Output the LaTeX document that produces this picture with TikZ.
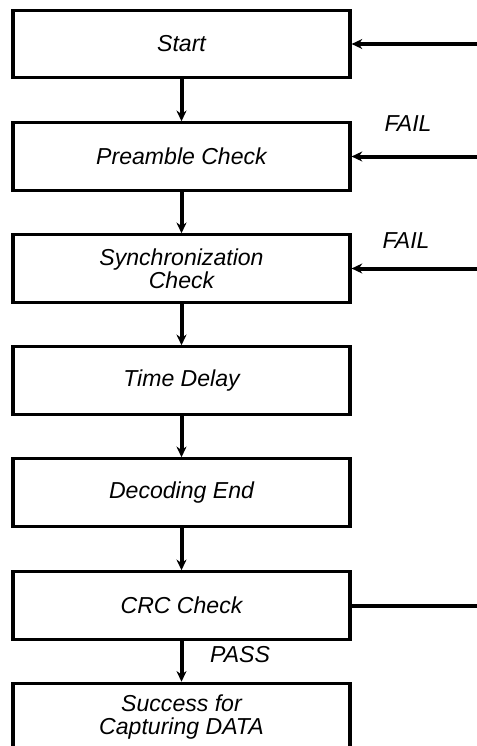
\documentclass[tikz,border=0pt]{standalone}
\usepackage{fontspec}
\setmainfont{Liberation Sans}
\usetikzlibrary{arrows.meta}
\begin{document}
\begin{tikzpicture}[x=0.75pt,y=-0.75pt,
  stepbox/.style={draw,line width=2.4pt,minimum width=252.75pt,minimum height=50.5pt,
    align=center,inner sep=0pt,font=\fontsize{17.3}{17.5}\selectfont\itshape},
  flow/.style={line width=3pt,-{Stealth[length=8pt,width=7.5pt]}},
  lbl/.style={font=\fontsize{17.3}{17.5}\selectfont\itshape}]
\useasboundingbox (0,0) rectangle (477,746);
\clip (0,0) rectangle (477,746);
\node[stepbox] (start) at (181.5,44) {Start};
\node[stepbox] (pre) at (181.5,156.5) {Preamble Check};
\node[stepbox] (sync) at (181.5,268.5) {Synchronization\\Check};
\node[stepbox] (delay) at (181.5,380.5) {Time Delay};
\node[stepbox] (dec) at (181.5,492.5) {Decoding End};
\node[stepbox] (crc) at (181.5,605.5) {CRC Check};
\node[stepbox] (ok) at (181.5,717) {Success for\\Capturing DATA};
% vertical flow
\draw[flow] (start) -- (pre);
\draw[flow] (pre) -- (sync);
\draw[flow] (sync) -- (delay);
\draw[flow] (delay) -- (dec);
\draw[flow] (dec) -- (crc);
\draw[flow] (crc) -- (ok);
% return lines on the right
\coordinate (r1) at (477,44);
\coordinate (r2) at (477,156.5);
\coordinate (r3) at (477,268.5);
\coordinate (r4) at (477,605.5);
\draw[flow] (r1) -- (start);
\draw[flow] (r2) -- (pre);
\draw[flow] (r3) -- (sync);
\draw[line width=3pt] (crc) -- (r4);
% labels
\node[lbl] (f1) at (408,124) {FAIL};
\node[lbl] (f2) at (406,241) {FAIL};
\node[lbl] (p1) at (240,655) {PASS};
\end{tikzpicture}
\end{document}
